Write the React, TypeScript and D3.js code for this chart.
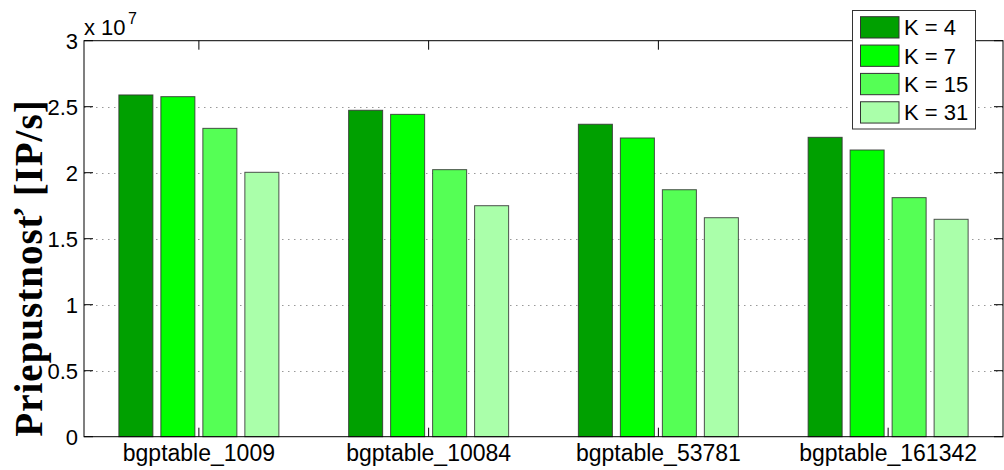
import React from "react";
import * as d3 from "d3";

const categories = ["bgptable_1009", "bgptable_10084", "bgptable_53781", "bgptable_161342"];
const seriesNames = ["K = 4", "K = 7", "K = 15", "K = 31"];
const seriesColors = ["#00A000", "#00FF00", "#55FF55", "#AAFFAA"];
const k4 = [2.589e7, 2.473e7, 2.367e7, 2.268e7];
const k7 = [2.576e7, 2.442e7, 2.263e7, 2.172e7];
const k15 = [2.336e7, 2.023e7, 1.871e7, 1.811e7];
const k31 = [2.003e7, 1.750e7, 1.659e7, 1.647e7];
const seriesValues = [k4, k7, k15, k31];
const yTicks = [0, 0.5e7, 1e7, 1.5e7, 2e7, 2.5e7, 3e7];
const yTickLabels = ["0", "0.5", "1", "1.5", "2", "2.5", "3"];

const W = 1004;
const H = 470;
const left = 84;
const right = 1003;
const top = 40.7;
const bottom = 436.7;

export default function App() {
  const x = d3.scaleBand<string>().domain(categories).range([left, right]).padding(0);
  const inner = d3
    .scaleBand<number>()
    .domain([0, 1, 2, 3])
    .range([-80, 80])
    .paddingInner(0.19)
    .paddingOuter(0);
  const y = d3.scaleLinear().domain([0, 3e7]).range([bottom, top]);
  const font = "'Liberation Sans', Arial, Helvetica, sans-serif";
  const tickLen = 9;

  return (
    <div style={{ position: "absolute", left: 0, top: 0 }}>
      <svg width={W} height={H} style={{ display: "block", background: "#fff" }}>
        <rect x={0} y={0} width={W} height={H} fill="#fff" />
        {/* grid */}
        {yTicks.slice(1, -1).map((t) => (
          <line
            key={"g" + t}
            x1={left}
            x2={right}
            y1={Math.round(y(t)) + 0.5}
            y2={Math.round(y(t)) + 0.5}
            stroke="#999"
            strokeWidth={1}
            strokeDasharray="1.5,4.5"
          />
        ))}
        {/* bars */}
        {categories.map((c, ci) =>
          seriesValues.map((vals, si) => {
            const cx = (x(c) as number) + x.bandwidth() / 2;
            const bx = cx + (inner(si) as number);
            return (
              <rect
                key={c + si}
                x={bx}
                y={y(vals[ci])}
                width={inner.bandwidth()}
                height={bottom - y(vals[ci])}
                fill={seriesColors[si]}
                stroke="#333"
                strokeOpacity={0.85}
                strokeWidth={1}
              />
            );
          })
        )}
        {/* axes box */}
        <rect x={left} y={top} width={right - left} height={bottom - top} fill="none" stroke="#000" strokeWidth={1} />
        {/* y ticks */}
        {yTicks.map((t, i) => (
          <g key={"yt" + t}>
            <line x1={left} x2={left + tickLen} y1={y(t)} y2={y(t)} stroke="#000" />
            <line x1={right - tickLen} x2={right} y1={y(t)} y2={y(t)} stroke="#000" />
            <text
              x={78}
              y={y(t)}
              dy="0.36em"
              textAnchor="end"
              fontFamily={font}
              fontSize={22}
              fill="#000"
            >
              {yTickLabels[i]}
            </text>
          </g>
        ))}
        {/* x ticks */}
        {categories.map((c) => {
          const cx = (x(c) as number) + x.bandwidth() / 2;
          return (
            <g key={"xt" + c}>
              <line x1={cx} x2={cx} y1={bottom} y2={bottom - tickLen} stroke="#000" />
              <line x1={cx} x2={cx} y1={top} y2={top + tickLen} stroke="#000" />
              <text x={cx} y={461} textAnchor="middle" fontFamily={font} fontSize={23} fill="#000">
                {c}
              </text>
            </g>
          );
        })}
        {/* exponent */}
        <text x={84} y={35} fontFamily={font} fontSize={22} fill="#000">
          x 10
        </text>
        <text x={128} y={24} fontFamily={font} fontSize={16} fill="#000">
          7
        </text>
        {/* y label */}
        <text
          transform={`translate(42, 268) rotate(-90)`}
          textAnchor="middle"
          fontFamily="'Liberation Serif', 'Times New Roman', serif"
          fontWeight="bold"
          fontSize={39}
          letterSpacing={1}
          fill="#000"
        >
          Priepustnosť [IP/s]
        </text>
        {/* legend */}
        <g>
          <rect x={852.5} y={10.5} width={123} height={118.5} fill="#fff" stroke="#333" strokeWidth={1} />
          {seriesNames.map((n, i) => {
            const ry = 16.7 + i * 28.35;
            return (
              <g key={n}>
                <rect x={860.5} y={ry} width={38.5} height={21.3} fill={seriesColors[i]} stroke="#333" strokeWidth={1} />
                <text x={904} y={ry + 18.5} fontFamily={font} fontSize={22} fill="#000">
                  {n}
                </text>
              </g>
            );
          })}
        </g>
      </svg>
    </div>
  );
}
